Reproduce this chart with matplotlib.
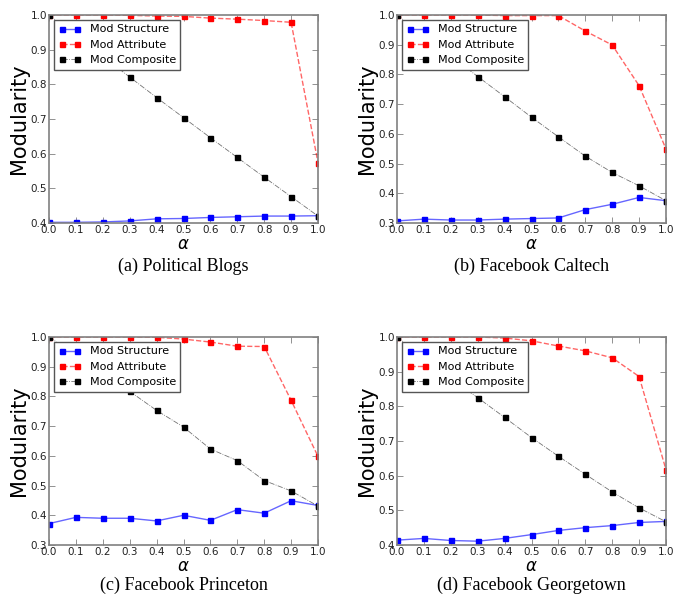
import numpy as np
import matplotlib
matplotlib.use("Agg")
import matplotlib.pyplot as plt

alpha = [0.0, 0.1, 0.2, 0.3, 0.4, 0.5, 0.6, 0.7, 0.8, 0.9, 1.0]

# (a) Political Blogs
a_struct = [0.402, 0.402, 0.403, 0.406, 0.412, 0.413, 0.416, 0.418, 0.420, 0.420, 0.421]
a_attr = [1.0, 1.0, 1.0, 0.999, 0.997, 0.996, 0.991, 0.988, 0.984, 0.979, 0.574]
a_comp = [1.0, 0.940, 0.881, 0.821, 0.762, 0.704, 0.646, 0.589, 0.532, 0.476, 0.420]

# (b) Facebook Caltech
b_struct = [0.307, 0.313, 0.310, 0.310, 0.313, 0.315, 0.317, 0.345, 0.363, 0.386, 0.375]
b_attr = [1.0, 1.0, 1.0, 1.0, 0.998, 0.998, 0.998, 0.946, 0.899, 0.762, 0.549]
b_comp = [1.0, 0.931, 0.862, 0.793, 0.725, 0.656, 0.590, 0.525, 0.470, 0.425, 0.375]

# (c) Facebook Princeton
c_struct = [0.372, 0.393, 0.390, 0.390, 0.381, 0.400, 0.383, 0.419, 0.407, 0.449, 0.433]
c_attr = [1.0, 1.0, 1.0, 1.0, 0.999, 0.993, 0.983, 0.969, 0.968, 0.787, 0.598]
c_comp = [1.0, 0.939, 0.878, 0.817, 0.753, 0.697, 0.623, 0.584, 0.517, 0.482, 0.431]

# (d) Facebook Georgetown
d_struct = [0.414, 0.419, 0.413, 0.411, 0.419, 0.430, 0.442, 0.450, 0.456, 0.465, 0.468]
d_attr = [1.0, 1.0, 1.0, 1.0, 0.997, 0.989, 0.974, 0.960, 0.940, 0.886, 0.617]
d_comp = [1.0, 0.940, 0.880, 0.825, 0.768, 0.710, 0.656, 0.604, 0.553, 0.507, 0.467]

panels = [
    (a_struct, a_attr, a_comp, 0.4, "(a) Political Blogs"),
    (b_struct, b_attr, b_comp, 0.3, "(b) Facebook Caltech"),
    (c_struct, c_attr, c_comp, 0.3, "(c) Facebook Princeton"),
    (d_struct, d_attr, d_comp, 0.4, "(d) Facebook Georgetown"),
]

# axes boxes in pixels: left, top, right, bottom, caption y
W, H = 681.0, 602.0
boxes = [(49, 15, 318, 223, 266), (397, 15, 666, 223, 266),
         (49, 337, 318, 545, 585), (397, 337, 666, 545, 585)]

fig = plt.figure(figsize=(6.81, 6.02), dpi=100)
spine_col = "#808080"

for (s, at, co, ymin, cap), (l, t, r, b, capy) in zip(panels, boxes):
    ax = fig.add_axes([l / W, 1 - b / H, (r - l) / W, (b - t) / H])
    ax.plot(alpha, s, color=(0, 0, 1, 0.6), ls="-", lw=1, marker="s", ms=3.6,
            mec="b", mfc="b", label="Mod Structure")
    ax.plot(alpha, at, color=(1, 0, 0, 0.6), ls="--", lw=1, marker="s", ms=3.6,
            mec="r", mfc="r", label="Mod Attribute")
    ax.plot(alpha, co, color=(0, 0, 0, 0.55), ls="-.", lw=0.6, marker="s", ms=3.6,
            mec="k", mfc="k", label="Mod Composite")
    ax.set_xlim(0, 1.0)
    ax.set_ylim(ymin, 1.0)
    ax.set_xticks(np.arange(0, 1.01, 0.1))
    ax.set_yticks(np.arange(ymin, 1.001, 0.1))
    ax.xaxis.set_major_formatter(plt.FormatStrFormatter("%.1f"))
    ax.yaxis.set_major_formatter(plt.FormatStrFormatter("%.1f"))
    ax.tick_params(direction="in", top=True, right=True, length=4,
                   width=0.6, color=spine_col, labelsize=7.5,
                   labelcolor="#222222", pad=1.5)
    for sp in ax.spines.values():
        sp.set_color(spine_col)
        sp.set_linewidth(1.2)
    ax.set_ylabel("Modularity", fontsize=15, labelpad=1)
    ax.set_xlabel(r"$\alpha$", fontsize=12, labelpad=0)
    leg = ax.legend(loc="upper left", fontsize=8, numpoints=2,
                    handlelength=2.0, fancybox=False, framealpha=1,
                    borderaxespad=0.45, borderpad=0.4, labelspacing=0.48)
    leg.get_frame().set_edgecolor("#555555")
    leg.get_frame().set_linewidth(1)
    cx = (l + r) / 2 / W
    cy = 1 - capy / H
    fig.text(cx, cy, cap, ha="center", va="center", fontsize=13,
             family="Liberation Serif")

fig.savefig("out.png", dpi=100)
